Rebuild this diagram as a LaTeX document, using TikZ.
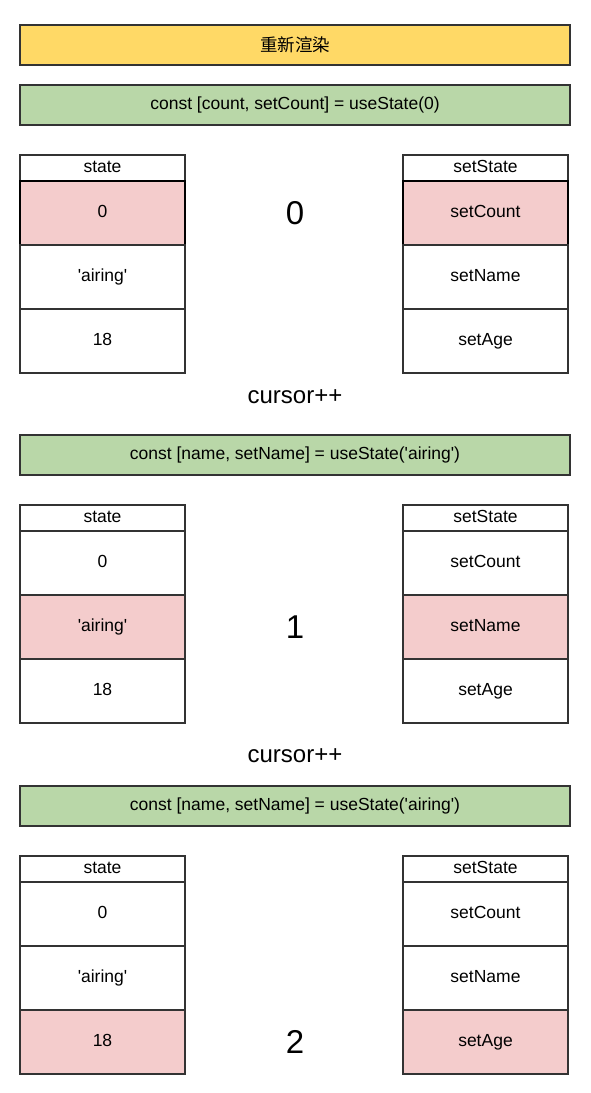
\documentclass[tikz,border=0pt]{standalone}
\usepackage{fontspec}
\newfontfamily\labelfont{Liberation Sans}
\newfontfamily\cjkfont{Noto Sans CJK SC}
\usetikzlibrary{positioning}
\definecolor{barYellow}{HTML}{FFD966}
\definecolor{barGreen}{HTML}{B9D7A8}
\definecolor{cellPink}{HTML}{F4CCCC}
\definecolor{lineGray}{HTML}{333333}

\begin{document}
\begin{tikzpicture}[x=1pt,y=-1pt,
    bar/.style={draw=lineGray,line width=1.2pt,minimum width=550pt,
      minimum height=40pt,inner sep=0pt,outer sep=0pt,
      font=\labelfont\fontsize{17.5}{21}\selectfont},
    cell/.style={draw=lineGray,line width=1.1pt,fill=white,minimum width=165pt,
      minimum height=64pt,inner sep=0pt,outer sep=0pt,text height=12pt,text depth=4pt,
      font=\labelfont\fontsize{17.5}{21}\selectfont},
    headcell/.style={cell,minimum height=26pt},
    bignum/.style={font=\labelfont\fontsize{33}{38}\selectfont},
    stepnote/.style={font=\labelfont\fontsize{24}{28}\selectfont}]

  \useasboundingbox (0,0) rectangle (590,1093);

  \node[bar,fill=barYellow] (render) at (295,45) {\cjkfont 重新渲染};
  \node[bar,fill=barGreen] (call0) at (295,105) {const [count, setCount] = useState(0)};
  \node[stepnote] (cursor1) at (295,397) {cursor++};
  \node[bar,fill=barGreen] (call1) at (295,455) {const [name, setName] = useState('airing')};
  \node[stepnote] (cursor2) at (295,756) {cursor++};
  \node[bar,fill=barGreen] (call2) at (295,806) {const [name, setName] = useState('airing')};

  % one pair of tables per render step
  \foreach \k/\ytop/\hl in {0/155/1,1/505/2,2/856/3} {
    \node[headcell,anchor=north] (st\k h) at (102.5,\ytop) {state};
    \node[headcell,anchor=north] (ss\k h) at (485.5,\ytop) {setState};
    \foreach \r/\val/\fn in {1/0/setCount,2/'airing'/setName,3/18/setAge} {
      \pgfmathtruncatemacro\prev{\r-1}
      \ifnum\r=\hl
        \def\cellfill{cellPink}
        \ifnum\k=0 \def\celldraw{black}\def\cellwd{1.8pt}\else\def\celldraw{lineGray}\def\cellwd{1.1pt}\fi
      \else
        \def\cellfill{white}\def\celldraw{lineGray}\def\cellwd{1.1pt}
      \fi
      \ifnum\r=1
        \node[cell,fill=\cellfill,draw=\celldraw,line width=\cellwd,below=0pt of st\k h] (st\k r\r) {\val};
        \node[cell,fill=\cellfill,draw=\celldraw,line width=\cellwd,below=0pt of ss\k h] (ss\k r\r) {\fn};
      \else
        \node[cell,fill=\cellfill,draw=\celldraw,line width=\cellwd,below=0pt of st\k r\prev] (st\k r\r) {\val};
        \node[cell,fill=\cellfill,draw=\celldraw,line width=\cellwd,below=0pt of ss\k r\prev] (ss\k r\r) {\fn};
      \fi
    }
    \node[bignum] (cur\k) at (render |- st\k r\hl) {\k};
  }
\end{tikzpicture}
\end{document}
